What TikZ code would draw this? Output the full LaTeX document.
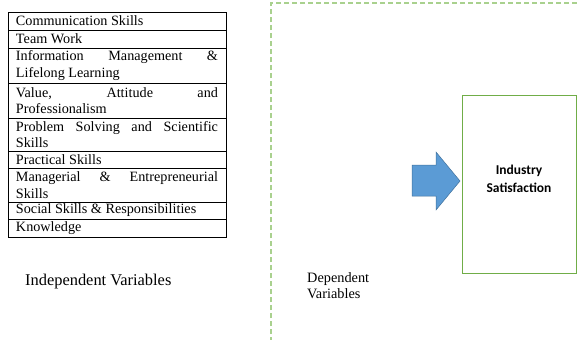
\documentclass[tikz,border=0pt]{standalone}
\usepackage{fontspec}
\setmainfont{Liberation Serif}
\newfontfamily\calibri{Carlito}
\usetikzlibrary{positioning}
\definecolor{frameGreen}{RGB}{169,209,142}
\definecolor{boxGreen}{RGB}{112,173,71}
\definecolor{arrowBlue}{RGB}{91,155,213}
\definecolor{arrowEdge}{RGB}{65,113,156}

\begin{document}
\begin{tikzpicture}[x=1pt,y=-1pt,
  item/.style={draw,line width=0.9pt,anchor=north,outer sep=0pt,text width=202pt,inner xsep=8pt,inner ysep=0pt,minimum height=17.5pt,align=justify,font={\fontsize{14.2}{16.5}\selectfont\hyphenpenalty=10000\tolerance=10000}},
  caption/.style={inner sep=0pt,align=left}]
\useasboundingbox (0,0) rectangle (579,340);

\node[item,minimum height=18pt] (comm) at (117,12) {Communication Skills};
\node[item,minimum height=18pt] (team) at (comm.south) {Team Work};
\node[item,minimum height=35pt] (info) at (team.south) {Information Management \& Lifelong Learning};
\node[item,minimum height=35pt] (value) at (info.south) {Value, Attitude and\linebreak Professionalism};
\node[item,minimum height=33pt] (prob) at (value.south) {Problem Solving and Scientific Skills};
\node[item,minimum height=17pt] (prac) at (prob.south) {Practical Skills};
\node[item,minimum height=34pt] (mana) at (prac.south) {Managerial \& Entrepreneurial Skills};
\node[item,minimum height=17pt] (soc) at (mana.south) {Social Skills \& Responsibilities};
\node[item,minimum height=18pt] (know) at (soc.south) {Knowledge};

\node[caption,anchor=base west,font=\fontsize{16.4}{18}\selectfont] (indep) at (25,285) {Independent Variables};
\node[caption,anchor=north west,font=\fontsize{14.3}{16.5}\selectfont] (dep) at (307,272) {Dependent\\Variables};

\draw[frameGreen,line width=1.3pt,dash pattern=on 5pt off 3pt] (271,342) -- (271,3) -- (581,3);

\node[draw=boxGreen,line width=1pt,minimum width=114pt,minimum height=178pt,align=center,text depth=11pt,font={\calibri\bfseries\fontsize{13.5}{18}\selectfont}] (sat) at (519,184) {Industry\\Satisfaction};

\filldraw[fill=arrowBlue,draw=arrowEdge,line width=0.5pt] (412,165) -- (436,165) -- (436,152) -- (460,181) -- (436,210) -- (436,196) -- (412,196) -- cycle;
\end{tikzpicture}
\end{document}
